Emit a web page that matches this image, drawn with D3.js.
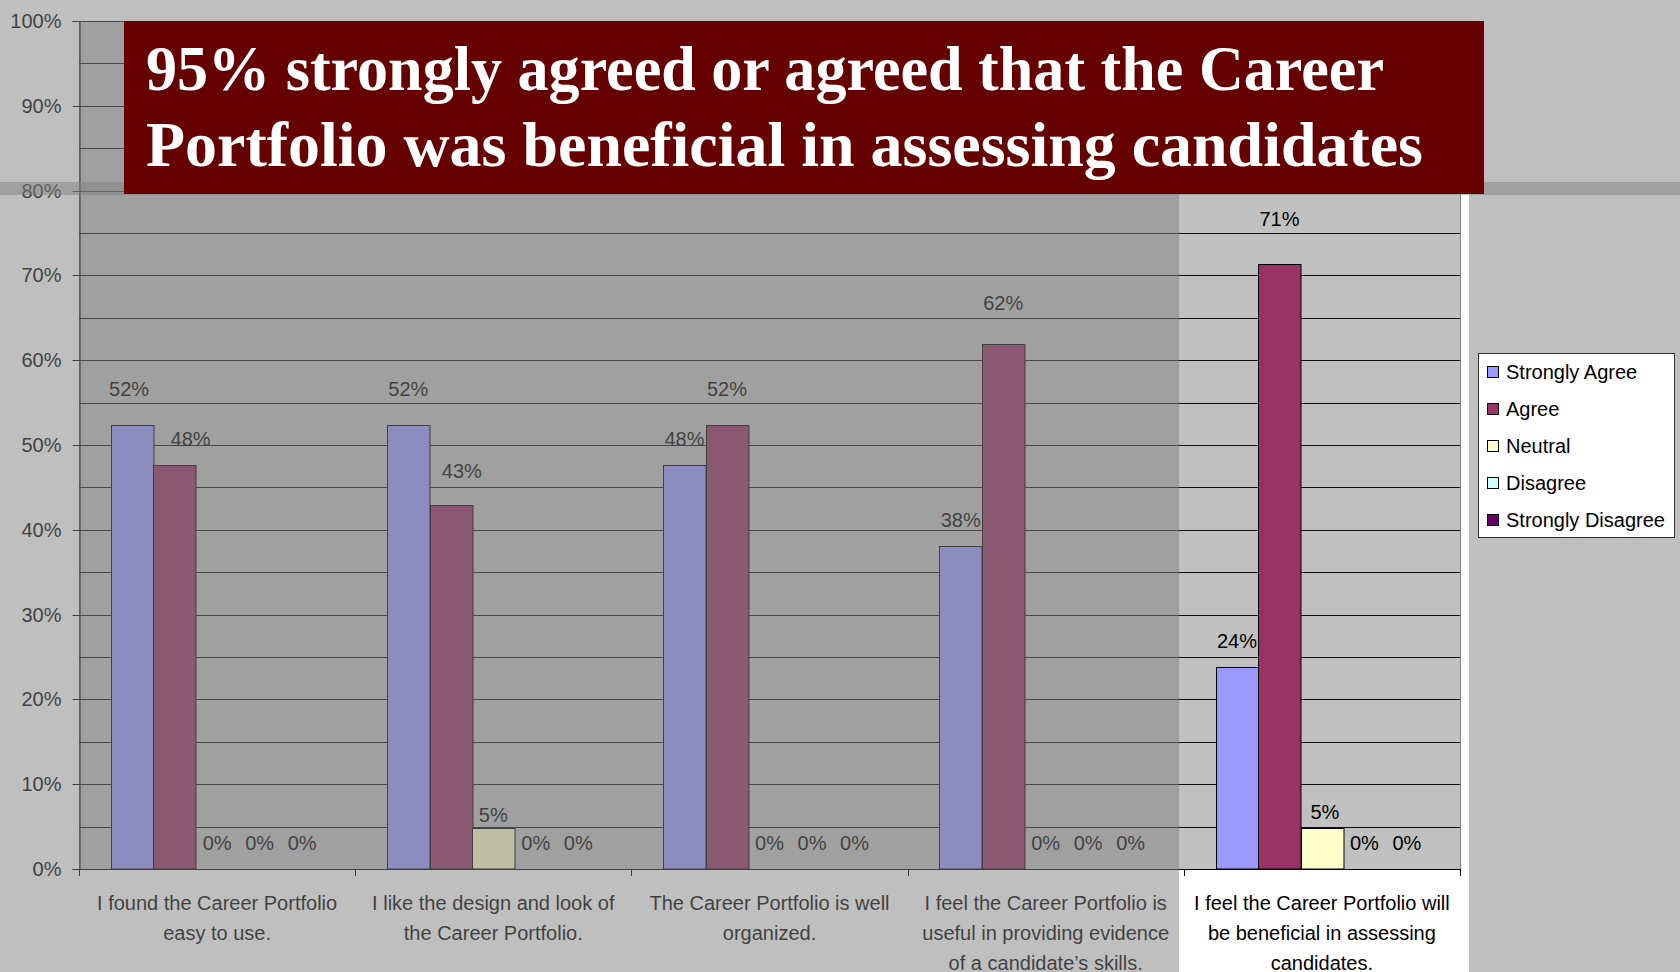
<!DOCTYPE html>
<html>
<head>
<meta charset="utf-8">
<script src="https://cdn.jsdelivr.net/npm/d3@7"></script>
<style>
  html, body { margin: 0; padding: 0; background: #ffffff; overflow: hidden; }
  svg { display: block; }
</style>
</head>
<body>
<svg id="chart" width="1680" height="972"></svg>
<script>
// ---- data -------------------------------------------------------------
const categoryLines = [
  ["I found the Career Portfolio", "easy to use."],
  ["I like the design and look of", "the Career Portfolio."],
  ["The Career Portfolio is well", "organized."],
  ["I feel the Career Portfolio is", "useful in providing evidence", "of a candidate\u2019s skills."],
  ["I feel the Career Portfolio will", "be beneficial in assessing", "candidates."]
];
const seriesNames = ["Strongly Agree", "Agree", "Neutral", "Disagree", "Strongly Disagree"];
const stronglyAgree    = [52.4, 52.4, 47.6, 38.1, 23.8];
const agree            = [47.6, 42.9, 52.4, 61.9, 71.4];
const neutral          = [0.0, 4.8, 0.0, 0.0, 4.8];
const disagree         = [0.0, 0.0, 0.0, 0.0, 0.0];
const stronglyDisagree = [0.0, 0.0, 0.0, 0.0, 0.0];
const yTickValues = [0, 10, 20, 30, 40, 50, 60, 70, 80, 90, 100];
const titleLines = [
  "95% strongly agreed or agreed that the Career",
  "Portfolio was beneficial in assessing candidates"
];

// ---- styling ----------------------------------------------------------
const seriesColors = ["#9999FF", "#993366", "#FFFFCC", "#CCFFFF", "#660066"];
const sans = "'Liberation Sans', Arial, sans-serif";
const serif = "'Liberation Serif', 'Times New Roman', serif";

// hand-placed data labels: [dx, dy] per category and series
const labelOffsets = [
  [[-3, -10], [16, 0], [0, 0], [0, 0], [0, 0]],
  [[0, -10], [11, -8], [0, 13], [0, 0], [0, 0]],
  [[0, 0], [0, -10], [0, 0], [0, 0], [0, 0]],
  [[0, 0], [0, -15], [0, 0], [0, 0], [0, 0]],
  [[0, 0], [0, -19], [3, 10], [0, 0], [0, 0]]
];

const W = 1680, H = 972;
const plot = { left: 79, right: 1460, top: 21, bottom: 869 };

const seriesValues = [stronglyAgree, agree, neutral, disagree, stronglyDisagree];
const categoryIndex = categoryLines.map((_, i) => i);

const svg = d3.select("#chart");

// chart background
svg.append("rect").attr("width", W).attr("height", H).attr("fill", "#ffffff");

// scales
const x0 = d3.scaleBand().domain(categoryIndex).range([plot.left, plot.right]).paddingInner(0).paddingOuter(0);
const x1 = d3.scaleBand().domain(seriesNames).range([0, x0.bandwidth()]).paddingInner(0).paddingOuter(0.75);
const y = d3.scaleLinear().domain([0, 100]).range([plot.bottom, plot.top]);

// plot area
svg.append("rect")
  .attr("x", plot.left).attr("y", plot.top)
  .attr("width", plot.right - plot.left).attr("height", plot.bottom - plot.top)
  .attr("fill", "#C0C0C0").attr("stroke", "#808080").attr("stroke-width", 1)
  .attr("shape-rendering", "crispEdges");

// gridlines every 5%
svg.append("g").selectAll("line")
  .data(d3.range(5, 101, 5))
  .join("line")
  .attr("x1", plot.left).attr("x2", plot.right)
  .attr("y1", d => Math.round(y(d)) + 0.5).attr("y2", d => Math.round(y(d)) + 0.5)
  .attr("stroke", "#111").attr("stroke-width", 1);

// bars
const cells = [];
categoryIndex.forEach(c => {
  seriesNames.forEach((s, si) => {
    cells.push({ c, s, si, v: seriesValues[si][c] });
  });
});

svg.append("g").selectAll("rect")
  .data(cells.filter(d => d.v > 0))
  .join("rect")
  .attr("x", d => Math.round(x0(d.c) + x1(d.s)) + 0.5)
  .attr("y", d => Math.round(y(d.v)) + 0.5)
  .attr("width", x1.bandwidth())
  .attr("height", d => y(0) - Math.round(y(d.v)) - 0.5)
  .attr("fill", d => seriesColors[d.si])
  .attr("stroke", "#000").attr("stroke-width", 1);

// value labels
svg.append("g").selectAll("text")
  .data(cells)
  .join("text")
  .attr("x", d => x0(d.c) + x1(d.s) + x1.bandwidth() / 2 + labelOffsets[d.c][d.si][0])
  .attr("y", d => y(d.v) - 19 + labelOffsets[d.c][d.si][1])
  .attr("text-anchor", "middle")
  .attr("font-family", sans).attr("font-size", 20)
  .attr("fill", "#000")
  .text(d => Math.round(d.v) + "%");

// value axis
const yAxis = d3.axisLeft(y).tickValues(yTickValues).tickSize(7).tickPadding(11)
  .tickFormat(d => d + "%");
const yg = svg.append("g").attr("transform", `translate(${plot.left + 0.5},0)`).call(yAxis);
yg.select(".domain").attr("stroke", "#000");
yg.selectAll(".tick line").attr("stroke", "#000");
yg.selectAll(".tick text").attr("font-family", sans).attr("font-size", 20).attr("fill", "#000");
yg.selectAll(".tick").attr("transform", d => `translate(0,${Math.round(y(d)) + 0.5})`);

// category axis
const xg = svg.append("g");
xg.append("line")
  .attr("x1", plot.left).attr("x2", plot.right)
  .attr("y1", plot.bottom + 0.5).attr("y2", plot.bottom + 0.5)
  .attr("stroke", "#000");
const boundaries = categoryIndex.map(c => x0(c)).concat([x0(categoryIndex[categoryIndex.length - 1]) + x0.bandwidth()]);
xg.selectAll("line.tick")
  .data(boundaries)
  .join("line").attr("class", "tick")
  .attr("x1", d => Math.round(d) + 0.5).attr("x2", d => Math.round(d) + 0.5)
  .attr("y1", plot.bottom).attr("y2", plot.bottom + 7)
  .attr("stroke", "#000");
const catText = xg.selectAll("text.cat")
  .data(categoryIndex)
  .join("text").attr("class", "cat")
  .attr("text-anchor", "middle")
  .attr("font-family", sans).attr("font-size", 20).attr("fill", "#000");
catText.selectAll("tspan")
  .data(c => categoryLines[c].map((line, i) => ({ c, line, i })))
  .join("tspan")
  .attr("x", d => x0(d.c) + x0.bandwidth() / 2)
  .attr("y", d => plot.bottom + 41 + d.i * 30)
  .text(d => d.line);

// dimming layers around the highlighted last category
const dim = svg.append("g").attr("fill", "#808080").attr("fill-opacity", 0.5);
dim.append("rect").attr("x", 0).attr("y", 0).attr("width", W).attr("height", 195);
dim.append("rect").attr("x", 0).attr("y", 182).attr("width", 1179).attr("height", H - 182);
dim.append("rect").attr("x", 1469).attr("y", 182).attr("width", W - 1469).attr("height", H - 182);

// headline box
svg.append("rect").attr("x", 124).attr("y", 21).attr("width", 1360).attr("height", 173)
  .attr("fill", "#660000");
const titleWidths = [1238, 1277];
svg.append("g").selectAll("text")
  .data(titleLines)
  .join("text")
  .attr("x", 146)
  .attr("y", (d, i) => 90 + i * 76)
  .attr("font-family", serif).attr("font-weight", "bold").attr("font-size", 63)
  .attr("fill", "#ffffff")
  .attr("textLength", (d, i) => titleWidths[i])
  .attr("lengthAdjust", "spacingAndGlyphs")
  .text(d => d);

// legend
const legend = svg.append("g");
legend.append("rect")
  .attr("x", 1478.5).attr("y", 353.5).attr("width", 196).attr("height", 184)
  .attr("fill", "#ffffff").attr("stroke", "#333").attr("stroke-width", 1);
const items = legend.selectAll("g.item")
  .data(seriesNames)
  .join("g").attr("class", "item")
  .attr("transform", (d, i) => `translate(0,${372 + i * 37})`);
items.append("rect")
  .attr("x", 1487.5).attr("y", -5.5).attr("width", 11).attr("height", 11)
  .attr("fill", (d, i) => seriesColors[i]).attr("stroke", "#000").attr("stroke-width", 1);
items.append("text")
  .attr("x", 1506).attr("y", 7)
  .attr("font-family", sans).attr("font-size", 20).attr("fill", "#000")
  .text(d => d);
</script>
</body>
</html>
